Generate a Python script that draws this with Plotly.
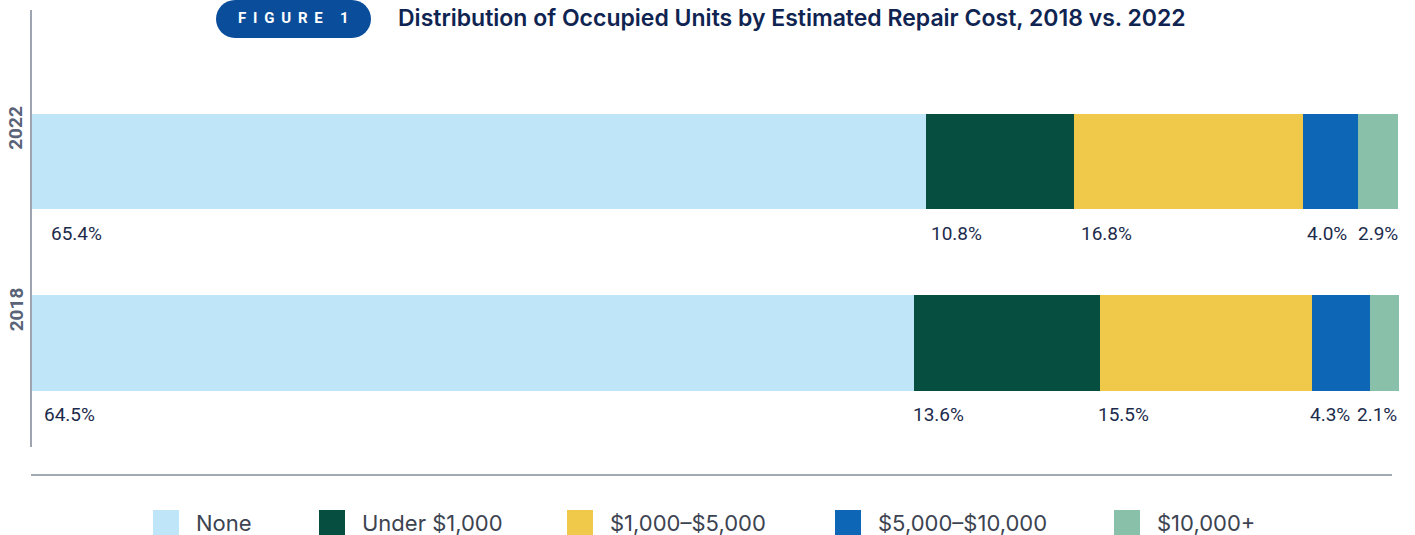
import plotly.graph_objects as go

# ---- data ----
years = ["2018", "2022"]
categories = ["None", "Under $1,000", "$1,000–$5,000", "$5,000–$10,000", "$10,000+"]
values_2018 = [64.5, 13.6, 15.5, 4.3, 2.1]
values_2022 = [65.4, 10.8, 16.8, 4.0, 2.9]
title_text = "Distribution of Occupied Units by Estimated Repair Cost, 2018 vs. 2022"
badge_text = "FIGURE 1"

# ---- style ----
colors = ["#bee5f8", "#064f40", "#f0c84a", "#0e66b7", "#89c0a9"]
W, H = 1415, 535
L, R, T, B = 32, 16, 10, 88
PW, PH = W - L - R, H - T - B
FONT = "Roboto"
label_color = "#1c2b4b"
label_shift = {"2022": [17, 3, 5, 2, 2], "2018": [10, -3, -4, -4, 0]}
legend_px = [153, 319, 567, 835, 1114]


def px(x):  # screen pixel -> paper x
    return (x - L) / PW


def py(y):  # screen pixel -> paper y
    return (H - B - y) / PH


series = {"2018": values_2018, "2022": values_2022}
ypos = {"2018": 0, "2022": 1}
bar_w = 0.526

fig = go.Figure()
for i, cat in enumerate(categories):
    fig.add_trace(go.Bar(
        y=[ypos[yr] for yr in years],
        x=[series[yr][i] for yr in years],
        name=cat, orientation="h", width=bar_w,
        marker=dict(color=colors[i], line=dict(width=0)),
        showlegend=False, hoverinfo="skip",
    ))

annotations = []
shapes = []

# value labels under each segment
for yr in years:
    vals = series[yr]
    cum = 0.0
    for i, v in enumerate(vals):
        last = i == len(vals) - 1
        annotations.append(dict(
            x=cum + v if last else cum, y=ypos[yr] - bar_w / 2,
            xref="x", yref="y", text=f"{v:.1f}%", showarrow=False,
            xanchor="right" if last else "left", yanchor="middle",
            xshift=label_shift[yr][i], yshift=-24,
            font=dict(family=FONT, size=19, color=label_color),
        ))
        cum += v
    # year label
    annotations.append(dict(
        x=px(16), y=ypos[yr] + bar_w / 2, xref="paper", yref="y",
        text=f"<b>{yr}</b>", showarrow=False, textangle=-90,
        xanchor="center", yanchor="middle", yshift=-14, borderpad=0,
        font=dict(family=FONT, size=19, color="#5a6377"),
    ))

# title badge (pill)
x0, x1, y0, y1 = 216, 371, 0, 38
r = (y1 - y0) / 2
k = 0.5523 * r
pts = [
    f"M{px(x0 + r)},{py(y0)}",
    f"L{px(x1 - r)},{py(y0)}",
    f"C{px(x1 - r + k)},{py(y0)} {px(x1)},{py(y0 + r - k)} {px(x1)},{py(y0 + r)}",
    f"C{px(x1)},{py(y0 + r + k)} {px(x1 - r + k)},{py(y1)} {px(x1 - r)},{py(y1)}",
    f"L{px(x0 + r)},{py(y1)}",
    f"C{px(x0 + r - k)},{py(y1)} {px(x0)},{py(y0 + r + k)} {px(x0)},{py(y0 + r)}",
    f"C{px(x0)},{py(y0 + r - k)} {px(x0 + r - k)},{py(y0)} {px(x0 + r)},{py(y0)}",
    "Z",
]
shapes.append(dict(type="path", xref="paper", yref="paper", path=" ".join(pts),
                   fillcolor="#0a4e9b", line=dict(width=0), layer="above"))
annotations.append(dict(
    x=px(293), y=py(18), xref="paper", yref="paper",
    text="<b>" + "\u00a0\u2009".join(badge_text) + "</b>", showarrow=False,
    xanchor="center", yanchor="middle", borderpad=0,
    font=dict(family=FONT, size=15, color="#ffffff"),
))
annotations.append(dict(
    x=px(397), y=py(18), xref="paper", yref="paper",
    text=title_text, showarrow=False,
    xanchor="left", yanchor="middle", borderpad=0,
    font=dict(family="Inter", size=23, color="#0f2451", weight=600),
))

# bottom rule
shapes.append(dict(type="line", xref="paper", yref="paper",
                   x0=px(31), x1=px(1392), y0=py(475), y1=py(475),
                   line=dict(color="#838d9a", width=1.5)))

# legend
for i, cat in enumerate(categories):
    lx = legend_px[i]
    shapes.append(dict(type="rect", xref="paper", yref="paper",
                       x0=px(lx), x1=px(lx + 26), y0=py(510), y1=py(536),
                       fillcolor=colors[i], line=dict(width=0)))
    annotations.append(dict(
        x=px(lx + 42), y=py(523), xref="paper", yref="paper",
        text=cat, showarrow=False, xanchor="left", yanchor="middle",
        borderpad=0,
        font=dict(family="Inter", size=22, color="#3d4451"),
    ))

fig.update_layout(
    width=W, height=H, barmode="stack",
    margin=dict(l=L, r=R, t=T, b=B),
    plot_bgcolor="#ffffff", paper_bgcolor="#ffffff",
    xaxis=dict(range=[0, 100], visible=False, fixedrange=True),
    yaxis=dict(range=[-0.573, 1.835], showticklabels=False, showgrid=False,
               zeroline=False, showline=True, linecolor="#9ea4b0", linewidth=1.5,
               ticks="", fixedrange=True),
    annotations=annotations, shapes=shapes,
    showlegend=False,
)

fig.write_html("out.html", config={"displayModeBar": False},
               post_script="document.body.style.margin='0';")
